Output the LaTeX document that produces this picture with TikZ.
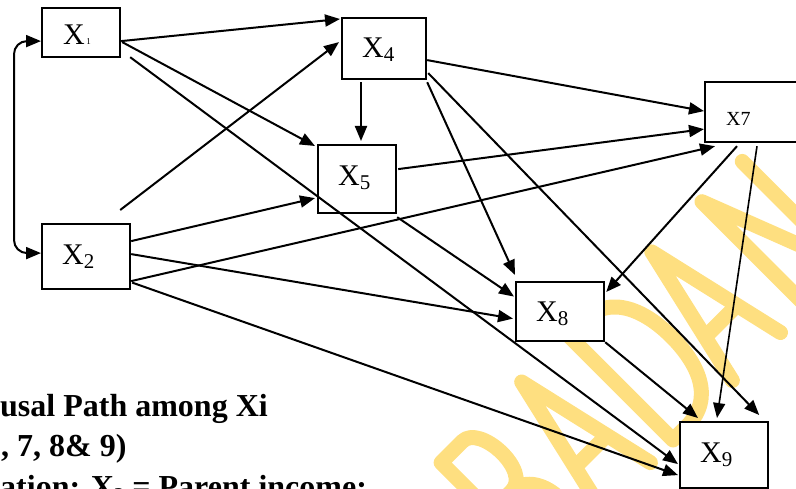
\documentclass[tikz,border=0pt]{standalone}
\usepackage{fontspec}
\setmainfont{Liberation Serif}
\usetikzlibrary{arrows.meta,calc}
\definecolor{wmyellow}{RGB}{254,223,128}
\begin{document}
\begin{tikzpicture}[x=1pt,y=-1pt,
  box/.style={draw, line width=2.2pt, fill=white, inner sep=0pt, anchor=north west},
  lbl/.style={inner sep=0pt, anchor=base west, font=\fontsize{30}{36}\selectfont},
  tip/.style={Triangle[length=15pt,width=12pt]},
  link/.style={line width=2pt, -{Triangle[length=15pt,width=12pt]}},
  captext/.style={inner sep=0pt, anchor=base west, font=\fontsize{32}{38}\selectfont\bfseries},
  wm/.style={draw=wmyellow, line width=15pt, line cap=round, line join=round}]
\useasboundingbox (0,0) rectangle (796,489);
\clip (0,0) rectangle (796,489);

% library watermark, drawn as thick strokes along a 45 degree baseline
\begin{scope}[shift={(673,440)}, x={(0.707pt,0.707pt)}, y={(-0.707pt,0.707pt)}]
  % B
  \draw[wm] (-150,78) -- (-180,78) -- (-180,148) -- (-150,148)
    .. controls (-125,148) and (-122,78) .. (-150,78)
    .. controls (-112,76) and (-112,0) .. (-150,0) -- (-180,0) -- (-180,78);
  % A
  \draw[wm] (-100,0) -- (-66,148) -- (-32,0);
  \draw[wm] (-88,50) -- (-44,50);
  % D
  \draw[wm] (0,0) -- (0,148) -- (20,148) .. controls (60,148) and (72,110) .. (72,74)
    .. controls (72,38) and (60,0) .. (20,0) -- cycle;
  % A
  \draw[wm] (84,0) -- (118,148) -- (152,0);
  \draw[wm] (96,50) -- (140,50);
  % N
  \draw[wm] (189,0) -- (189,148) -- (246,0) -- (246,148);
\end{scope}

% variable boxes
\node[box, minimum width=78pt, minimum height=49pt] (x1) at (41,7) {};
\node[box, minimum width=88pt, minimum height=65pt] (x2) at (41,223) {};
\node[box, minimum width=84pt, minimum height=61pt] (x4) at (341,17) {};
\node[box, minimum width=78pt, minimum height=68pt] (x5) at (317,144) {};
\node[box, minimum width=102pt, minimum height=60pt] (x7) at (704,81) {};
\node[box, minimum width=88pt, minimum height=59pt] (x8) at (515,281) {};
\node[box, minimum width=88pt, minimum height=66pt] (x9) at (679,421) {};

% causal paths
\draw[link] ($(x1.east)+(0,8.5)$) -- ($(x4.north west)+(-1,2)$);
\draw[link] ($(x1.east)+(1,9.5)$) -- ($(x5.north west)+(-2,2)$);
\draw[link] ($(x1.south east)+(9,-1)$) -- ($(x9.west)+(-1,9)$);
\draw[link] ($(x2.north east)+(-11,-13)$) -- ($(x4.west)+(-2,-6.5)$);
\draw[link] ($(x2.east)+(0,-15.5)$) -- ($(x5.west)+(-2,19)$);
\draw[link] ($(x2.east)+(0,-2.5)$) -- ($(x8.west)+(-2,7)$);
\draw[link] ($(x2.east)+(0,24.5)$) -- ($(x7.south west)+(11,3)$);
\draw[link] ($(x2.east)+(1,26)$) -- ($(x9.west)+(-1,20)$);
\draw[link] ($(x4.south west)+(20,2)$) -- ($(x5.north west)+(44,-3)$);
\draw[link] ($(x4.east)+(0,11.5)$) -- ($(x7.west)+(0,-1)$);
\draw[link] ($(x4.south east)+(0,2)$) -- ($(x8.north west)+(0,-6)$);
\draw[link] ($(x4.east)+(1,24.5)$) -- ($(x9.north east)+(-10,-6)$);
\draw[link] ($(x5.east)+(1,-10)$) -- ($(x7.west)+(0,17)$);
\draw[link] ($(x5.south east)+(0,3)$) -- ($(x8.west)+(-1,-15)$);
\draw[link] ($(x7.south west)+(33,3)$) -- ($(x8.north east)+(1,11)$);
\draw[link, line width=1.6pt] ($(x7.south west)+(53,3)$) -- ($(x9.north west)+(38,-3)$);
\draw[link] (x8.south east) -- ($(x9.north west)+(19,-3)$);

% correlation between X1 and X2
\coordinate (loop) at (14,146);
\draw[line width=2pt, rounded corners=13pt, {Triangle[length=15pt,width=12pt]}-{Triangle[length=15pt,width=12pt]}]
  ($(x1.west)+(0,8.5)$) -| (loop) |- ($(x2.west)+(0,-3.5)$);

% box labels
\node[lbl] (x1t) at (63,45) {X\hspace{1.5pt}{\fontsize{9}{9}\selectfont 1}};
\node[lbl] (x2t) at (62,265) {X\raisebox{-4pt}{\fontsize{21}{21}\selectfont 2}};
\node[lbl] (x4t) at (362,58) {X\raisebox{-4pt}{\fontsize{21}{21}\selectfont 4}};
\node[lbl] (x5t) at (338,186) {X\raisebox{-4pt}{\fontsize{21}{21}\selectfont 5}};
\node[inner sep=0pt, anchor=base west, font=\fontsize{20}{24}\selectfont] (x7t) at (726,126) {X7};
\node[lbl] (x8t) at (536,322) {X\raisebox{-4pt}{\fontsize{21}{21}\selectfont 8}};
\node[lbl] (x9t) at (700,462) {X\raisebox{-4pt}{\fontsize{21}{21}\selectfont 9}};

% caption
\node[captext] (cap1) at (0,417) {usal Path among Xi};
\node[captext] (cap2) at (1,456) {, 7, 8\& 9)};
\node[captext] (cap3) at (0,497) {ation: X\raisebox{-5pt}{\fontsize{21}{21}\selectfont 2} = Parent income:};
\end{tikzpicture}
\end{document}
